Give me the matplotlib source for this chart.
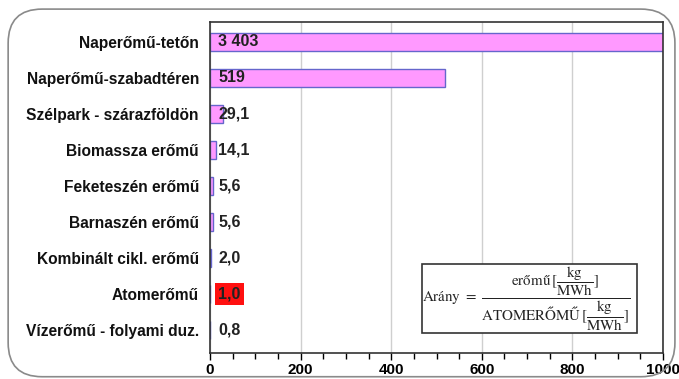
import matplotlib
matplotlib.use("Agg")
from matplotlib import pyplot as plt
from matplotlib.patches import FancyBboxPatch, Rectangle
import matplotlib.ticker as plticker

categories = ["Naperőmű-tetőn", "Naperőmű-szabadtéren", "Szélpark - szárazföldön",
              "Biomassza erőmű", "Feketeszén erőmű", "Barnaszén erőmű",
              "Kombinált cikl. erőmű", "Atomerőmű", "Vízerőmű - folyami duz."]
values = [3403, 519, 29.1, 14.1, 5.6, 5.6, 2.0, 1.0, 0.8]
highlight = "Atomerőmű"


def fmt(v):
    if v >= 100:
        return f"{int(v):,}".replace(",", " ")
    return f"{v:.1f}".replace(".", ",")


plt.rcParams['font.family'] = ['Liberation Sans', 'DejaVu Sans']
plt.rcParams['mathtext.fontset'] = 'stix'

fig = plt.figure(figsize=(6.79, 3.79), dpi=100)
ax = fig.add_axes([210/679, 26/379, 453/679, 331/379])

# outer rounded frame
frame = FancyBboxPatch((0.012, 0.006), 0.982, 0.97, boxstyle="round,pad=0,rounding_size=0.05",
                       transform=fig.transFigure, facecolor='none', edgecolor='#8a8a8a',
                       linewidth=1.2, mutation_aspect=679/379, zorder=0)
fig.patches.append(frame)

ypos = list(range(len(categories)))
ax.barh(ypos, values, height=0.5, color='#ff99ff', edgecolor='#6666cc', linewidth=1, zorder=2)

for y, v, c in zip(ypos, values, categories):
    box = None
    if c == highlight:
        box = dict(boxstyle='square,pad=0.22', facecolor='#ff1010', edgecolor='none')
    ax.annotate(fmt(v), (0, y), xytext=(6, 0), textcoords='offset points',
                va='center', ha='left', fontsize=11.5, fontweight='bold', color='#222222',
                bbox=box, zorder=4)

ax.set_xlim(0, 1000)
ax.set_ylim(len(categories) - 0.37, -0.55)
ax.set_yticks(ypos)
ax.set_yticklabels(categories, fontsize=11.2, fontweight='bold', color='#111111')
ax.tick_params(axis='y', length=0, pad=8)

ax.xaxis.set_major_locator(plticker.MultipleLocator(200))
ax.xaxis.set_minor_locator(plticker.MultipleLocator(50))
ax.tick_params(axis='x', which='major', length=5, width=1, labelsize=11, pad=2)
ax.tick_params(axis='x', which='minor', length=4, width=1)
for lbl in ax.get_xticklabels():
    lbl.set_fontweight('bold')
ax.grid(axis='x', which='major', color='#cfcfcf', linewidth=1, zorder=0)
ax.set_axisbelow(True)
for s in ax.spines.values():
    s.set_color('#333333')
    s.set_linewidth(1.2)

# formula box
ax.add_patch(Rectangle((0.468, 0.06), 0.475, 0.21, transform=ax.transAxes,
                       facecolor='white', edgecolor='#333333', linewidth=1.2, zorder=5))
ax.text(0.469, 0.163,
        r'$\mathrm{Arány}\ =\ \dfrac{\mathrm{erőmű}\,[\dfrac{\mathrm{kg}}{\mathrm{MWh}}]}'
        r'{\mathrm{ATOMERŐMŰ}\,[\dfrac{\mathrm{kg}}{\mathrm{MWh}}]}$',
        transform=ax.transAxes, ha='left', va='center', fontsize=10.8, fontweight='normal',
        color='#222222', zorder=6)

fig.savefig('out.png', dpi=100)
